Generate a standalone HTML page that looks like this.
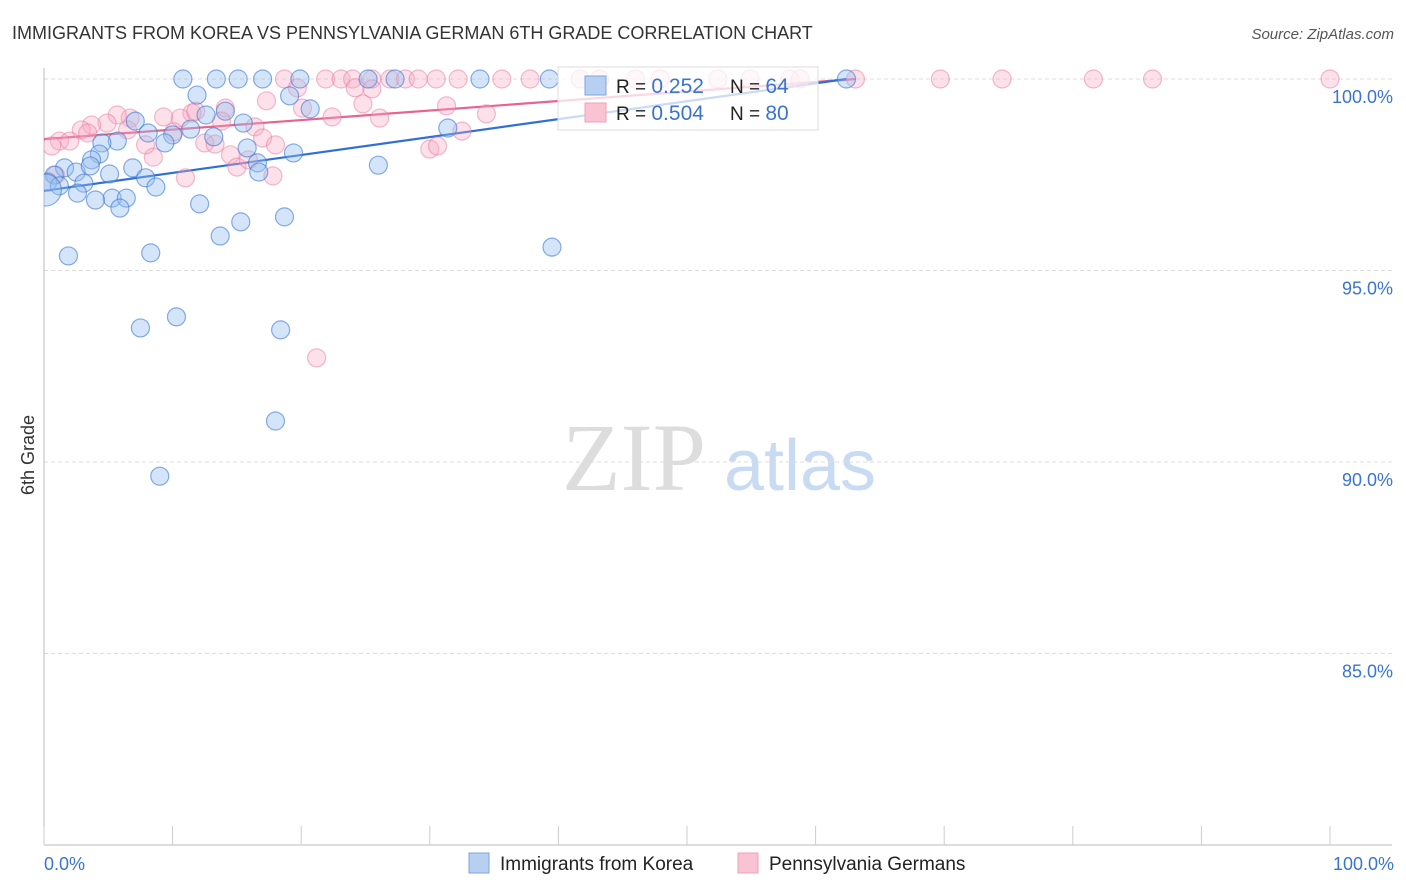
<!DOCTYPE html>
<html><head><meta charset="utf-8"><style>
body{margin:0;background:#fff;font-family:"Liberation Sans",sans-serif;}
#wrap{position:relative;width:1406px;height:892px;overflow:hidden;}
</style></head><body>
<div id="wrap">
<svg id="chart" width="1406" height="892">
<defs><clipPath id="plotclip"><rect x="44" y="40" width="1360" height="805"/></clipPath></defs>
<text x="12" y="39" font-size="18" fill="#333">IMMIGRANTS FROM KOREA VS PENNSYLVANIA GERMAN 6TH GRADE CORRELATION CHART</text>
<text x="1394" y="39" font-size="15" fill="#555" font-style="italic" text-anchor="end">Source: ZipAtlas.com</text>
<text transform="translate(34,455) rotate(-90)" font-size="18" fill="#333" text-anchor="middle">6th Grade</text>
<g>
<text x="634" y="490" font-size="96" font-family="Liberation Serif,serif" fill="#ddd" text-anchor="middle">ZIP</text>
<text x="800" y="490" font-size="72" fill="#c9dbf3" text-anchor="middle">atlas</text>
</g>
<g id="grid"></g><g id="axes"></g><g id="trend" clip-path="url(#plotclip)"></g><g id="pts" clip-path="url(#plotclip)"></g>
<g>
<rect x="558" y="67" width="260" height="63" fill="rgba(255,255,255,0.75)" stroke="#ddd"/>
<rect x="585" y="76" width="21" height="19" fill="#b7d0f2" stroke="#7ea6e0"/>
<rect x="585" y="103" width="21" height="19" fill="#f9c3d3" stroke="#eea0b8"/>
<text x="616" y="93" font-size="19" fill="#222">R = <tspan fill="#3a74d0" font-size="21">0.252</tspan></text>
<text x="730" y="93" font-size="19" fill="#222">N = <tspan fill="#3a74d0" font-size="21">64</tspan></text>
<text x="616" y="120" font-size="19" fill="#222">R = <tspan fill="#3a74d0" font-size="21">0.504</tspan></text>
<text x="730" y="120" font-size="19" fill="#222">N = <tspan fill="#3a74d0" font-size="21">80</tspan></text>
</g>
<g>
<rect x="469" y="853" width="20" height="20" fill="#b7d0f2" stroke="#7ea6e0"/>
<text x="500" y="870" font-size="19" fill="#222">Immigrants from Korea</text>
<rect x="738" y="853" width="20" height="20" fill="#f9c3d3" stroke="#eea0b8"/>
<text x="769" y="870" font-size="19" fill="#222">Pennsylvania Germans</text>
</g>
</svg>
</div>
<script>
const yTicks=[100,95,90,85];
const yTickLabels=["100.0%","95.0%","90.0%","85.0%"];
const xTicks=[0,10,20,30,40,50,60,70,80,90,100];
const xEndLabels=["0.0%","100.0%"];
const koreaX=[10.8,13.4,15.1,17.0,19.9,25.2,27.3,33.9,39.3,62.4,11.9,19.1,20.7,12.6,14.1,15.5,11.4,7.1,8.1,10.0,9.4,13.2,5.7,4.5,4.3,3.7,1.6,2.5,3.6,0.8,0.3,1.2,3.1,5.1,6.9,7.9,8.7,5.3,6.4,4.0,2.6,5.9,15.8,16.6,16.7,19.4,26.0,31.4,12.1,15.3,18.7,13.7,1.9,8.3,39.5,7.5,10.3,18.4,18.0,9.0,0.1];
const koreaY=[100,100,100,100,100,100,100,100,100,100,99.58,99.56,99.22,99.06,99.16,98.85,98.69,98.90,98.59,98.54,98.33,98.49,98.38,98.33,98.04,97.89,97.68,97.57,97.73,97.49,97.31,97.21,97.28,97.52,97.68,97.42,97.18,96.89,96.89,96.84,97.02,96.63,98.20,97.81,97.57,98.07,97.75,98.72,96.74,96.27,96.40,95.90,95.38,95.46,95.61,93.50,93.79,93.45,91.07,89.63,97.1];
const paX=[18.7,21.9,23.1,24.0,25.5,26.9,28.1,29.1,30.5,32.2,35.6,37.8,41.7,43.2,46.0,47.9,52.4,54.9,58.0,58.8,63.1,69.7,74.5,81.6,86.2,100,19.7,24.2,25.5,17.3,14.1,24.8,31.3,34.4,26.1,22.4,20.1,11.5,10.6,9.3,6.7,5.7,4.9,3.7,2.9,1.2,0.6,2.0,3.4,8.5,7.9,10.1,12.5,13.3,14.5,15.0,15.9,16.4,17.0,18.0,17.8,11.0,21.2,30.0,30.6,32.5,13.8,11.8,6.5,0.9];
const paY=[100,100,100,100,100,100,100,100,100,100,100,100,100,100,100,100,100,100,100,100,100,100,100,100,100,100,99.77,99.77,99.74,99.43,99.24,99.35,99.30,99.09,98.98,99.01,99.24,99.11,98.98,99.01,98.98,99.06,98.85,98.80,98.67,98.38,98.25,98.38,98.59,97.96,98.28,98.62,98.33,98.30,98.02,97.70,97.89,98.75,98.46,98.28,97.47,97.42,92.72,98.17,98.25,98.64,98.90,99.16,98.67,97.49];
const koreaTrendX=[0,62.4], koreaTrendY=[97.08,100];
const paTrendX=[0,63.1], paTrendY=[98.43,100];

const NS="http://www.w3.org/2000/svg";
const X=v=>44+v*12.86, Y=v=>79+(100-v)*38.3;
function mk(tag,attrs,parent){const e=document.createElementNS(NS,tag);for(const k in attrs)e.setAttribute(k,attrs[k]);parent.appendChild(e);return e;}
const grid=document.getElementById('grid'),axes=document.getElementById('axes'),trend=document.getElementById('trend'),pts=document.getElementById('pts');
yTicks.forEach((t,i)=>{
  const l=mk('line',{x1:44,x2:1392,y1:Y(t),y2:Y(t),stroke:'#ddd','stroke-dasharray':'4,3'},grid);
  
  
  const tx=mk('text',{x:1393,y:Y(t)+24,'font-size':18,fill:'#3a74d0','text-anchor':'end'},grid);
  tx.textContent=yTickLabels[i];
  
  
});
const ya=mk('line',{x1:44,x2:44,y1:68,y2:845,stroke:'#bbb'},axes);


const xa=mk('line',{x1:44,x2:1392,y1:845,y2:845,stroke:'#bbb'},axes);


xTicks.forEach(t=>{
  const l=mk('line',{x1:X(t),x2:X(t),y1:826,y2:845,stroke:'#ccc'},axes);
  
  
});
[[0,'start',44],[1,'end',1394]].forEach(([i,a,x])=>{
  const tx=mk('text',{x:x,y:870,'font-size':18,fill:'#3a74d0','text-anchor':a},axes);
  tx.textContent=xEndLabels[i];
  
  
});
function series(xs,ys,fill,stroke,name){
  xs.forEach((x,i)=>{
    const big=(name==='korea-point'&&i===xs.length-1);
    const c=mk('circle',{cx:X(x),cy:Y(ys[i]),r:big?16:9,fill:fill,stroke:stroke,'stroke-width':1.2},pts);
    
    
  });
}
series(paX,paY,'rgba(246,170,194,0.35)','rgba(234,120,155,0.5)','pa-german-point');
series(koreaX,koreaY,'rgba(150,190,240,0.4)','rgba(60,120,210,0.6)','korea-point');
const t1=mk('line',{x1:X(paTrendX[0]),y1:Y(paTrendY[0]),x2:X(paTrendX[1]),y2:Y(paTrendY[1]),stroke:'#e8648e','stroke-width':2.2},trend);


const t2=mk('line',{x1:X(koreaTrendX[0]),y1:Y(koreaTrendY[0]),x2:X(koreaTrendX[1]),y2:Y(koreaTrendY[1]),stroke:'#2f6fd8','stroke-width':2.2},trend);


</script>
</body></html>
